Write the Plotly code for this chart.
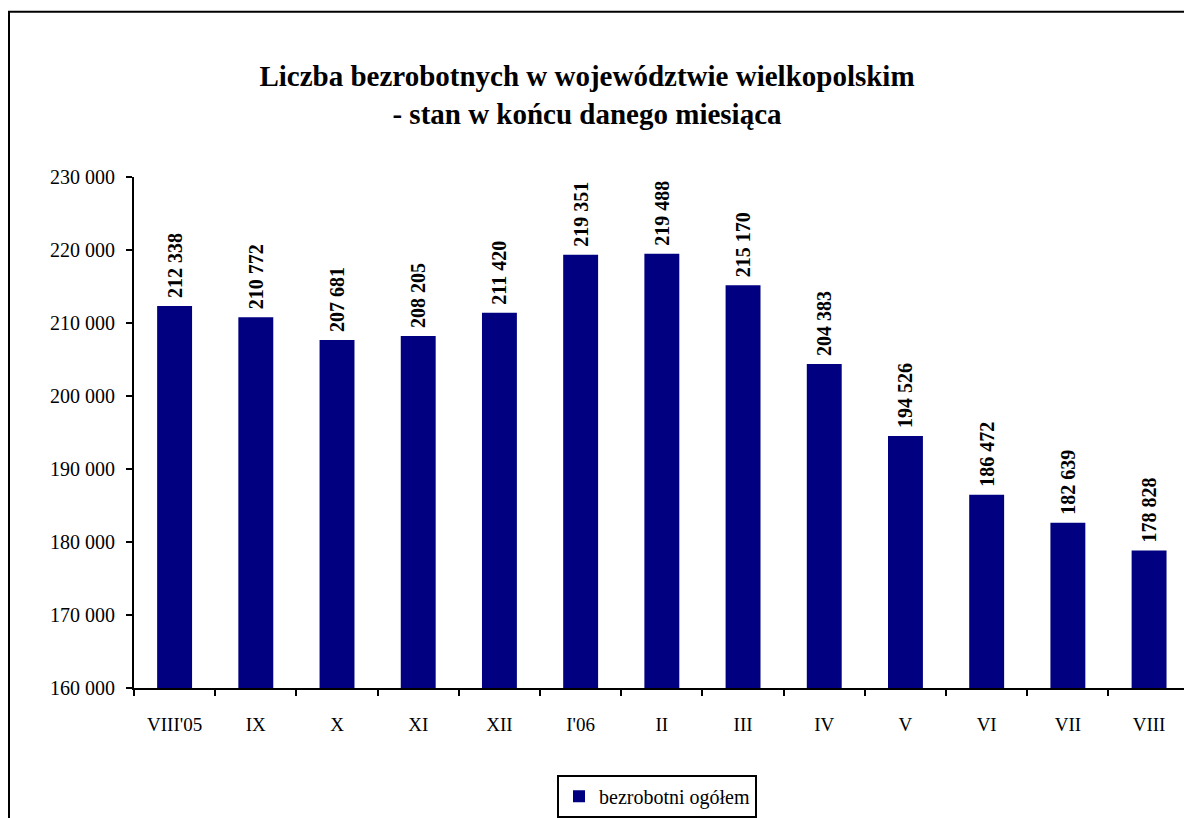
import plotly.graph_objects as go

categories = ["VIII'05", "IX", "X", "XI", "XII", "I'06", "II", "III", "IV", "V", "VI", "VII", "VIII"]
values = [212338, 210772, 207681, 208205, 211420, 219351, 219488, 215170, 204383, 194526, 186472, 182639, 178828]
labels = ["212 338", "210 772", "207 681", "208 205", "211 420", "219 351", "219 488", "215 170",
          "204 383", "194 526", "186 472", "182 639", "178 828"]
y_ticks = [160000, 170000, 180000, 190000, 200000, 210000, 220000, 230000]
y_tick_text = ["160 000", "170 000", "180 000", "190 000", "200 000", "210 000", "220 000", "230 000"]

FONT = "Liberation Serif, Times New Roman, serif"

fig = go.Figure()
fig.add_trace(go.Bar(
    x=categories, y=values, name="bezrobotni ogółem",
    marker=dict(color="#000080", line=dict(color="#000080", width=0)),
    width=0.43,
    text=["&nbsp;<b>" + t + "</b>" for t in labels], textposition="outside", textangle=-90,
    constraintext="none",
    textfont=dict(family=FONT, size=20, color="black"),
    cliponaxis=False,
))

fig.update_layout(
    width=1184, height=818,
    margin=dict(l=134, r=0, t=177, b=128),
    paper_bgcolor="white", plot_bgcolor="white",
    font=dict(family=FONT, color="black"),
    title=dict(
        text="<b>Liczba bezrobotnych w województwie wielkopolskim<br>- stan w końcu danego miesiąca</b>",
        x=587 / 1184, xref="container", xanchor="center", y=1 - 86 / 818, yanchor="middle",
        font=dict(family=FONT, size=29, color="black"),
    ),
    showlegend=True,
    legend=dict(
        orientation="h", x=(657 - 134) / 1050, xanchor="center",
        y=(690 - 777) / 513, yanchor="top",
        bordercolor="black", borderwidth=2, bgcolor="white",
        font=dict(family=FONT, size=20, color="black"),
    ),
    xaxis=dict(
        type="category", range=[-0.5, 12.43],
        showline=True, linecolor="black", linewidth=2,
        ticks="outside", tickson="boundaries", ticklen=6, tickwidth=2, tickcolor="black",
        tickfont=dict(family=FONT, size=19, color="black"),
        ticklabelstandoff=18,
        showgrid=False,
    ),
    yaxis=dict(
        range=[160000, 230000],
        tickvals=y_ticks, ticktext=y_tick_text,
        showline=True, linecolor="black", linewidth=2,
        ticks="outside", ticklen=6, tickwidth=2, tickcolor="black",
        tickfont=dict(family=FONT, size=20, color="black"),
        ticklabelstandoff=7,
        showgrid=False, zeroline=False,
    ),
    bargap=0.57,
)

# outer chart border (extends beyond the visible page at right and bottom)
fig.add_shape(type="rect", xref="paper", yref="paper",
              x0=(9 - 134) / 1050, x1=1.2, y0=-0.6, y1=(690 - 11) / 513,
              line=dict(color="black", width=2), fillcolor="rgba(0,0,0,0)", layer="above")

fig.write_html("out.html", config={"displayModeBar": False},
               post_script="document.body.style.margin='0';document.body.style.overflow='hidden';")
